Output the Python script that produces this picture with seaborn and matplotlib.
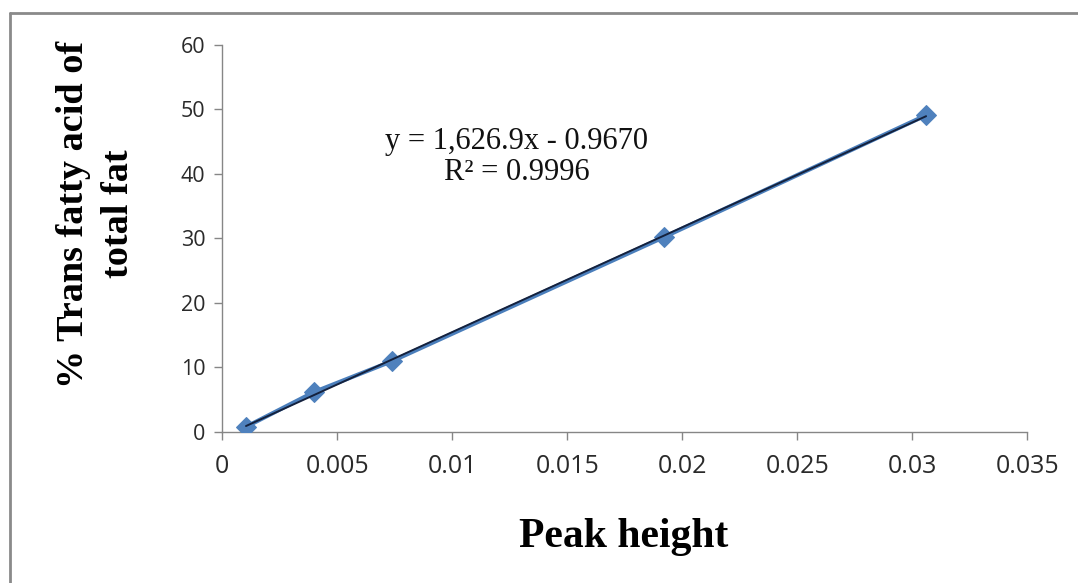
import numpy as np
import pandas as pd
import matplotlib
matplotlib.use("Agg")
import matplotlib.pyplot as plt
import seaborn as sns
from matplotlib.lines import Line2D

# calibration points
peak_height = [0.00104, 0.0040, 0.0074, 0.0192, 0.0306]
trans_fat_pct = [0.8, 6.2, 11.0, 30.2, 49.1]

x_ticks = [0, 0.005, 0.01, 0.015, 0.02, 0.025, 0.03, 0.035]
x_tick_labels = ["0", "0.005", "0.01", "0.015", "0.02", "0.025", "0.03", "0.035"]
y_ticks = [0, 10, 20, 30, 40, 50, 60]

equation_text = "y = 1,626.9x - 0.9670\nR² = 0.9996"

df = pd.DataFrame({"peak": peak_height, "pct": trans_fat_pct})

sns.set_style("white")
plt.rcParams["font.family"] = ["Open Sans", "DejaVu Sans"]

fig = plt.figure(figsize=(10.78, 5.83), dpi=100)
ax = fig.add_axes([0.206, 0.259, 0.747, 0.664])

# data series
sns.lineplot(data=df, x="peak", y="pct", ax=ax, color="#4A7EBB", linewidth=3,
             marker="D", markersize=10.5, markerfacecolor="#4F81BD",
             markeredgecolor="#4F81BD", zorder=3)
# linear trendline
sns.regplot(data=df, x="peak", y="pct", ax=ax, scatter=False, ci=None,
            line_kws={"color": "#14213d", "linewidth": 1.4, "zorder": 4})

ax.set_xlim(0, 0.035)
ax.set_ylim(0, 60)
ax.set_xticks(x_ticks)
ax.set_xticklabels(x_tick_labels)
ax.set_yticks(y_ticks)
ax.tick_params(axis="x", labelsize=18, length=6, width=1, color="#868686",
               direction="out", pad=10, bottom=True)
ax.tick_params(axis="y", labelsize=15.5, length=6, width=1, color="#868686",
               direction="out", pad=6, left=True)
for lab in ax.get_xticklabels() + ax.get_yticklabels():
    lab.set_color("#2a2a2a")

for side in ["top", "right"]:
    ax.spines[side].set_visible(False)
for side in ["left", "bottom"]:
    ax.spines[side].set_color("#868686")
    ax.spines[side].set_linewidth(1)

ax.set_xlabel("")
ax.set_ylabel("")

ax.text(0.0128, 42.6, equation_text, fontsize=22, family="Liberation Serif",
        ha="center", va="center", linespacing=1.1, color="#111111")

fig.text(96 / 1078, 1 - 214 / 583, "% Trans fatty acid of\ntotal fat",
         family="Liberation Serif", fontweight="bold", fontsize=27.5,
         rotation=90, ha="center", va="center", multialignment="center",
         linespacing=1.4, color="black")
fig.text(624 / 1078, 1 - 537 / 583, "Peak height", family="Liberation Serif",
         fontweight="bold", fontsize=30, ha="center", va="center",
         color="black")

# chart frame (top and left edges visible)
fig.add_artist(Line2D([10 / 1078, 1], [1 - 13 / 583] * 2, color="#8a8a8a",
                      linewidth=2, transform=fig.transFigure))
fig.add_artist(Line2D([10 / 1078] * 2, [0, 1 - 13 / 583], color="#8a8a8a",
                      linewidth=2, transform=fig.transFigure))

fig.savefig("out.png", dpi=100)
